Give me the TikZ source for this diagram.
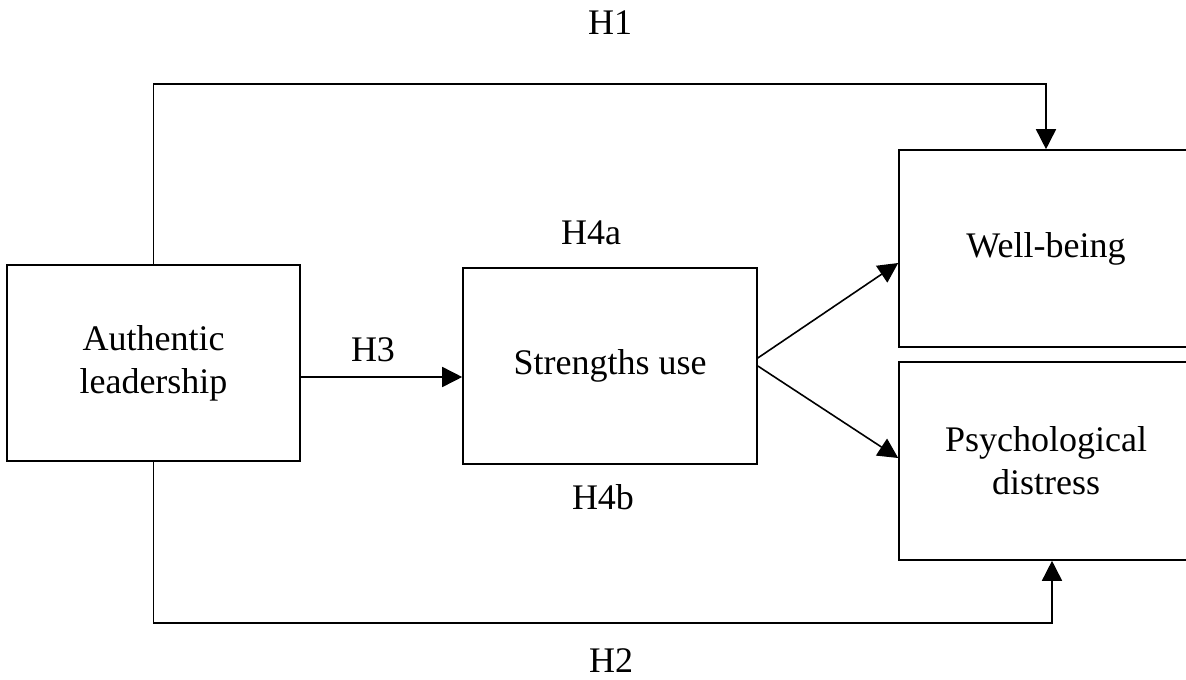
\documentclass[tikz,border=0pt]{standalone}
\usepackage{fontspec}
\setmainfont{Liberation Serif}
\usetikzlibrary{arrows.meta}
\begin{document}
\begin{tikzpicture}[x=1pt,y=-1pt,
  box/.style={draw,line width=1.6pt,minimum width=293pt,minimum height=196pt,inner sep=0pt,align=center,font=\fontsize{36}{43}\selectfont},
  lbl/.style={font=\fontsize{36}{43}\selectfont,inner sep=0pt},
  arr/.style={line width=1.6pt,-{Triangle[width=20pt,length=20pt]}}]
\clip (0,0) rectangle (1186,680);
\fill[white] (0,0) rectangle (1186,680);
\node[box] (auth) at (153.5,363) {Authentic\\leadership};
\node[box,minimum width=294pt] (su) at (610,366) {Strengths use};
\node[box,minimum width=294pt,minimum height=197pt] (wb) at (1046,248.5) {Well-being};
\node[box,minimum width=294pt,minimum height=198pt] (pd) at (1046,461) {Psychological\\distress};
\coordinate (t) at (600,84);
\coordinate (b) at (600,623);
\coordinate (h3y) at (380,377);
\draw[arr] (auth.north) |- (t) -| (wb.north);
\draw[arr] (auth.south) |- (b) -| ([xshift=6pt]pd.south);
\draw[arr] (auth.east |- h3y) -- (su.west |- h3y);
\draw[arr] ([yshift=8pt]su.east) -- ([yshift=-14.5pt]wb.west);
\draw[arr] (su.east) -- ([yshift=3pt]pd.west);
\node[lbl] (h1) at (610,23) {H1};
\node[lbl] (h2) at (611,660.5) {H2};
\node[lbl] (h3) at (373,349.5) {H3};
\node[lbl] (h4a) at (591,233) {H4a};
\node[lbl] (h4b) at (603,497) {H4b};
\end{tikzpicture}
\end{document}
